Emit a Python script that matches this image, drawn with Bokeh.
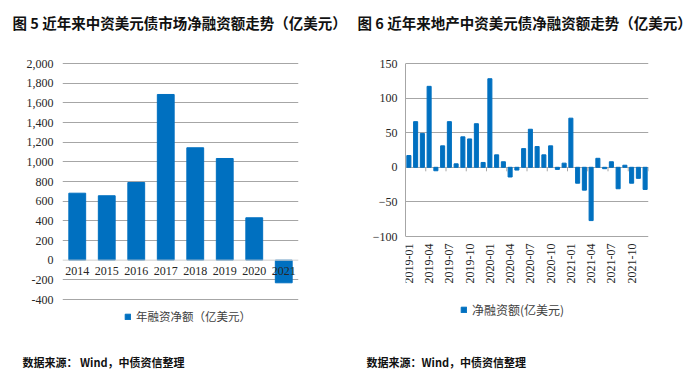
import math
from bokeh.plotting import figure
from bokeh.layouts import row
from bokeh.models import (FactorRange, Range1d, FixedTicker, NumeralTickFormatter,
                          Title, Legend, LegendItem, ColumnDataSource, Span)
from bokeh.core.properties import value
from bokeh.embed import file_html
from bokeh.resources import INLINE

# ---------------- data ----------------
years = ["2014", "2015", "2016", "2017", "2018", "2019", "2020", "2021"]
annual_net = [681, 655, 790, 1685, 1143, 1034, 431, -230]
left_ticks = [-400, -200, 0, 200, 400, 600, 800, 1000, 1200, 1400, 1600, 1800, 2000]

months = [
    "2019-01", "2019-02", "2019-03", "2019-04", "2019-05", "2019-06",
    "2019-07", "2019-08", "2019-09", "2019-10", "2019-11", "2019-12",
    "2020-01", "2020-02", "2020-03", "2020-04", "2020-05", "2020-06",
    "2020-07", "2020-08", "2020-09", "2020-10", "2020-11", "2020-12",
    "2021-01", "2021-02", "2021-03", "2021-04", "2021-05", "2021-06",
    "2021-07", "2021-08", "2021-09", "2021-10", "2021-11", "2021-12",
]
monthly_net = [17, 66, 49, 117, -5, 31, 66, 5, 44, 41, 63, 7,
               128, 18, 8, -14, -4, 27, 55, 30, 18, 31, -3, 6,
               71, -23, -33, -77, 13, -2, 8, -31, 3, -23, -16, -32]
right_ticks = [-100, -50, 0, 50, 100, 150]
label_step = 3

title_left = "图 5 近年来中资美元债市场净融资额走势（亿美元）"
title_right = "图 6 近年来地产中资美元债净融资额走势（亿美元）"
legend_left = "年融资净额（亿美元）"
legend_right = "净融资额(亿美元)"
source_left = "数据来源：  Wind，中债资信整理"
source_right = "数据来源：Wind，中债资信整理"

# ---------------- style / layout ----------------
BLUE = "#0070C0"
GRID = "#a6a6a6"
TXT = "#262626"
SERIF = "Liberation Serif"
CJK = "Noto Sans CJK SC"

FIG_H = 383
FRAME_TOP = 40        # frame extends above the top gridline
FRAME_BOTTOM = 338    # legends live inside the frame
PLOT_TOP = 63         # pixel row of the highest gridline in both charts

# left chart: value axis spans 236 px from -400 to 2000
l_per_px = (left_ticks[-1] - left_ticks[0]) / 236
l_top = left_ticks[-1] + (PLOT_TOP - FRAME_TOP) * l_per_px
l_bottom = left_ticks[-1] - (FRAME_BOTTOM - PLOT_TOP) * l_per_px
# right chart: value axis spans 173 px from -100 to 150
r_per_px = (right_ticks[-1] - right_ticks[0]) / 173
r_top = right_ticks[-1] + (PLOT_TOP - FRAME_TOP) * r_per_px
r_bottom = right_ticks[-1] - (FRAME_BOTTOM - PLOT_TOP) * r_per_px


def style_title(p, text, offset):
    p.title.text = text
    p.title.align = "left"
    p.title.vertical_align = "bottom"
    p.title.offset = offset
    p.title.standoff = 16
    p.title.text_font = CJK
    p.title.text_font_style = "bold"
    p.title.text_font_size = "14.5px"
    p.title.text_color = "#111111"


def add_source(p, text, offset):
    p.add_layout(Title(text=text, align="left", offset=offset, standoff=27,
                       text_font=CJK, text_font_style="bold", text_font_size="11px",
                       text_color="#111111"), "below")


def style_yaxis(p, ticks, standoff):
    p.yaxis.ticker = FixedTicker(ticks=ticks)
    p.yaxis.major_tick_line_color = None
    p.yaxis.minor_tick_line_color = None
    p.yaxis.major_tick_out = 0
    p.yaxis.major_label_standoff = standoff
    p.yaxis.major_label_text_font = SERIF
    p.yaxis.major_label_text_font_size = "12px"
    p.yaxis.major_label_text_color = TXT


def make_legend(p, r, label, loc, size):
    p.add_layout(Legend(items=[LegendItem(label=label, renderers=[r])], location=loc,
                        padding=0, margin=0, border_line_color=None, background_fill_alpha=0,
                        glyph_width=7, glyph_height=7, label_standoff=5, label_height=12,
                        label_text_font=CJK, label_text_font_size=size,
                        label_text_color="#404040"))


# ---------------- left chart ----------------
src1 = ColumnDataSource(dict(x=years, v=annual_net))
p1 = figure(width=350, height=FIG_H, x_range=FactorRange(*years, range_padding=0),
            y_range=Range1d(l_bottom, l_top), x_axis_location=None,
            output_backend="svg", toolbar_location=None, title="",
            min_border_left=62, min_border_right=52,
            min_border_top=FRAME_TOP, min_border_bottom=FIG_H - FRAME_BOTTOM)
p1.outline_line_color = None
style_title(p1, title_left, -50)

grid_ticks_left = [t for t in left_ticks if t != 0]
p1.ygrid.ticker = FixedTicker(ticks=grid_ticks_left)
p1.ygrid.grid_line_color = GRID
p1.xgrid.grid_line_color = None
p1.add_layout(Span(location=0, dimension="width", line_color="#d0d0d0", line_width=1))

r1 = p1.vbar(x="x", top="v", bottom=0, width=0.57, source=src1,
             fill_color=BLUE, line_color=BLUE)
p1.text(x="x", y=0, text="x", source=src1, y_offset=7,
        text_font=value(SERIF), text_font_size="12px", text_color=TXT,
        text_align="center", text_baseline="top")

style_yaxis(p1, left_ticks, 9)
p1.yaxis.formatter = NumeralTickFormatter(format="0,0")
p1.yaxis.axis_line_color = None

make_legend(p1, r1, legend_left, (62, 14), "11.5px")
add_source(p1, source_left, -40)

# ---------------- right chart ----------------
xs = list(range(len(months)))
src2 = ColumnDataSource(dict(x=xs, v=monthly_net))
label_idx = xs[::label_step]
src_lab = ColumnDataSource(dict(x=label_idx, t=[months[i] for i in label_idx]))
bounds = [i - 0.5 for i in range(label_step, len(months) + 1, label_step)]

p2 = figure(width=350, height=FIG_H, x_range=Range1d(-0.5, len(months) - 0.5),
            y_range=Range1d(r_bottom, r_top), x_axis_location=None,
            output_backend="svg", toolbar_location=None, title="",
            min_border_left=55, min_border_right=52,
            min_border_top=FRAME_TOP, min_border_bottom=FIG_H - FRAME_BOTTOM)
p2.outline_line_color = None
style_title(p2, title_right, -48)

p2.ygrid.ticker = FixedTicker(ticks=right_ticks)
p2.ygrid.grid_line_color = GRID
p2.xgrid.grid_line_color = None

r2 = p2.vbar(x="x", top="v", bottom=0, width=0.6, source=src2,
             fill_color=BLUE, line_color=BLUE)
# small tick marks under the zero line between quarters
p2.segment(x0=bounds, y0=[0] * len(bounds), x1=bounds, y1=[-4 * r_per_px] * len(bounds),
           line_color=GRID, line_width=1)
p2.text(x="x", y=right_ticks[0], text="t", source=src_lab, y_offset=7, angle=math.pi / 2,
        text_font=value(SERIF), text_font_size="12px", text_color=TXT,
        text_align="right", text_baseline="middle")

style_yaxis(p2, right_ticks, 8)
p2.yaxis.axis_line_color = GRID
p2.yaxis.bounds = (right_ticks[0], right_ticks[-1])

make_legend(p2, r2, legend_right, (55, 20), "12px")
add_source(p2, source_right, -39)

layout = row(p1, p2)
open("out.html", "w").write(file_html(layout, INLINE))
